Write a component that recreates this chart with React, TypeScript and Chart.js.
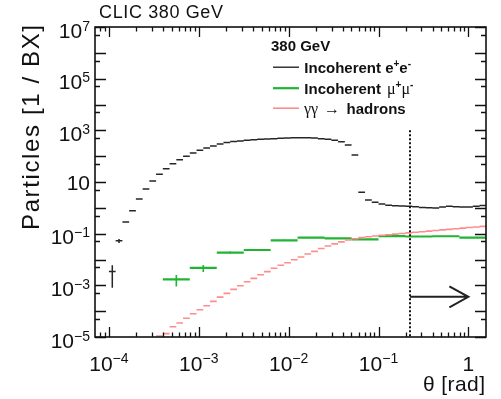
import { useEffect, useRef } from "react";
import { Chart, registerables } from "chart.js";

Chart.register(...registerables);

const SANS = "'Liberation Sans', Arial, Helvetica, sans-serif";
const SERIF = "'Liberation Serif', 'Times New Roman', serif";

// θ axis range [rad] and particle-count range
const THETA_MIN = 7.2e-5;
const THETA_MAX = Math.PI / 2;
const COUNT_MIN = 1e-5;
const COUNT_MAX = 1e7;

// log10(θ) binning: fine bins (e+e-, γγ → hadrons) and coarse bins (μ+μ-)
const FINE_START = -4.15;
const FINE_STEP = 0.075;
const COARSE_START = -3.4;
const COARSE_STEP = 0.3;

// Incoherent e+e- pairs per fine θ bin [1 / BX]
const EE_COUNTS: (number | null)[] = [
  null, null, 0.0034, 0.053, 0.28, 0.77, 2.2, 5.3, 10.9, 19.8,
  32.7, 51, 73, 99, 132, 169, 207, 247, 295, 337,
  369, 386, 411, 434, 449, 461, 475, 490, 505, 513,
  518, 513, 505, 475, 449, 411, 363, 270, 111, 4.0,
  2.0, 1.63, 1.4, 1.25, 1.2, 1.18, 1.14, 1.1, 1.04, 1.0,
  0.98, 1.08, 1.14, 1.1, 1.08, 1.08, 1.16, 1.22,
];
const EE_ERRORS = [0, 0, 0.0026, 0.009];

// γγ → hadrons per fine θ bin [1 / BX]
const HADRON_COUNTS: (number | null)[] = [
  null, null, null, null, null, null, null, null, null, 1.1e-5,
  1.35e-5, 2.5e-5, 3.5e-5, 5.3e-5, 7.9e-5, 1.13e-4, 1.62e-4, 2.4e-4, 3.5e-4, 4.9e-4,
  7.0e-4, 9.6e-4, 1.38e-3, 1.86e-3, 2.57e-3, 3.4e-3, 4.6e-3, 6.0e-3, 7.5e-3, 9.8e-3,
  0.0125, 0.0163, 0.0207, 0.0266, 0.0332, 0.0404, 0.0483, 0.0567, 0.0637, 0.0703,
  0.0755, 0.081, 0.0863, 0.091, 0.096, 0.101, 0.107, 0.113, 0.119, 0.125,
  0.132, 0.14, 0.147, 0.155, 0.164, 0.173, 0.182, 0.192,
];

// Incoherent μ+μ- pairs per coarse θ bin [1 / BX]
const MUMU_COUNTS = [
  1.7e-3, 4.7e-3, 0.0186, 0.0233, 0.055, 0.0697,
  0.066, 0.0603, 0.081, 0.0776, 0.0795, 0.0707,
];
const MUMU_ERRORS = [
  0.0008, 0.0014, 0.0017, 0.002, 0.003, 0.002,
  0.002, 0.002, 0.002, 0.002, 0.002, 0.002,
];

// labelled decades
const X_DECADES = [-4, -3, -2, -1, 0];
const Y_DECADES = [7, 5, 3, 1, -1, -3, -5];

// acceptance cut marker
const CUT_THETA = 0.224;
const CUT_TOP = 1e3;
const ARROW_END = 1.0;
const ARROW_LEVEL = 3.6e-4;

const TITLE = "CLIC 380 GeV";
const Y_TITLE = "Particles [1 / BX]";
const X_TITLE = "θ [rad]";
const LEGEND_HEADER = "380 GeV";

const EE_COLOR = "#262626";
const MUMU_COLOR = "#1fb532";
const HADRON_COLOR = "#ff8c8c";
const INK = "#111111";

type Pt = { x: number; y: number | null };

// horizontal bar across each bin, separated by gaps
function binSegments(start: number, step: number, values: (number | null)[]): Pt[] {
  const pts: Pt[] = [];
  values.forEach((v, i) => {
    if (v == null) return;
    const lo = Math.pow(10, start + i * step);
    const hi = Math.pow(10, start + (i + 1) * step);
    pts.push({ x: lo, y: v }, { x: hi, y: v }, { x: hi, y: null });
  });
  return pts;
}

// vertical error bar at each bin centre
function errorBars(start: number, step: number, values: (number | null)[], errs: number[]): Pt[] {
  const pts: Pt[] = [];
  values.forEach((v, i) => {
    const e = errs[i] ?? 0;
    if (v == null || !e) return;
    const c = Math.pow(10, start + (i + 0.5) * step);
    pts.push({ x: c, y: Math.max(v - e, 1e-9) }, { x: c, y: v + e }, { x: c, y: null });
  });
  return pts;
}

function powerParts(exp: number) {
  if (exp === 0) return { base: "1", sup: "" };
  if (exp === 1) return { base: "10", sup: "" };
  return { base: "10", sup: exp < 0 ? "\u2212" + -exp : String(exp) };
}

// text stretched to a given width through letter spacing
function fitText(ctx: any, text: string, x: number, y: number, width: number) {
  ctx.letterSpacing = "0px";
  const w = ctx.measureText(text).width;
  const n = Array.from(text).length;
  const sp = n > 1 ? (width - w) / (n - 1) : 0;
  ctx.letterSpacing = `${sp}px`;
  ctx.fillText(text, x, y);
  ctx.letterSpacing = "0px";
}

type Run = { text: string; font: string; rise?: number; at?: number };

function drawRuns(ctx: CanvasRenderingContext2D, runs: Run[], x: number, y: number) {
  let cx = x;
  for (const r of runs) {
    if (r.at !== undefined) cx = r.at;
    ctx.font = r.font;
    ctx.fillText(r.text, cx, y - (r.rise ?? 0));
    cx += ctx.measureText(r.text).width;
  }
}

const BASE_FONT = `21px ${SANS}`;
const SUP_FONT = `14px ${SANS}`;
const B15 = `bold 15px ${SANS}`;
const B10 = `bold 10px ${SANS}`;
const SYM = `16px ${SERIF}`;

const framePlugin = {
  id: "rootFrame",
  afterDraw(chart: any) {
    const { ctx, chartArea: a, scales } = chart;
    const xs = scales.x;
    const ys = scales.y;
    ctx.save();

    // cut line and arrow
    const cx = Math.round(xs.getPixelForValue(CUT_THETA));
    ctx.strokeStyle = INK;
    ctx.lineWidth = 2;
    ctx.setLineDash([2, 2]);
    ctx.beginPath();
    ctx.moveTo(cx, ys.getPixelForValue(CUT_TOP));
    ctx.lineTo(cx, a.bottom);
    ctx.stroke();
    ctx.setLineDash([]);

    const ay = ys.getPixelForValue(ARROW_LEVEL);
    const ax = xs.getPixelForValue(ARROW_END);
    ctx.strokeStyle = "#222";
    ctx.lineWidth = 2;
    ctx.beginPath();
    ctx.moveTo(cx, ay);
    ctx.lineTo(ax, ay);
    ctx.moveTo(ax - 19, ay - 10.5);
    ctx.lineTo(ax, ay);
    ctx.lineTo(ax - 19, ay + 10.5);
    ctx.stroke();

    // ticks (inside, on all four sides)
    ctx.strokeStyle = INK;
    ctx.lineWidth = 1.3;
    ctx.beginPath();
    for (let e = -5; e <= 1; e++) {
      for (let m = 1; m <= 9; m++) {
        const v = m * Math.pow(10, e);
        if (v < THETA_MIN || v > THETA_MAX) continue;
        const px = Math.round(xs.getPixelForValue(v)) + 0.5;
        const len = m === 1 ? 10 : 4.5;
        ctx.moveTo(px, a.bottom);
        ctx.lineTo(px, a.bottom - len);
        ctx.moveTo(px, a.top);
        ctx.lineTo(px, a.top + len);
      }
    }
    for (let e = -5; e <= 7; e++) {
      for (const m of [1, 5]) {
        const v = m * Math.pow(10, e);
        if (v < COUNT_MIN || v > COUNT_MAX) continue;
        const py = Math.round(ys.getPixelForValue(v)) + 0.5;
        const len = m === 1 ? 11 : 5;
        ctx.moveTo(a.left, py);
        ctx.lineTo(a.left + len, py);
        ctx.moveTo(a.right, py);
        ctx.lineTo(a.right - len, py);
      }
    }
    ctx.stroke();

    ctx.lineWidth = 1.6;
    ctx.strokeRect(a.left, a.top, a.right - a.left, a.bottom - a.top);

    // tick labels
    ctx.fillStyle = INK;
    ctx.textAlign = "left";
    ctx.textBaseline = "alphabetic";
    for (const e of Y_DECADES) {
      const py = ys.getPixelForValue(Math.pow(10, e));
      const { base, sup } = powerParts(e);
      ctx.font = BASE_FONT;
      const wb = ctx.measureText(base).width;
      ctx.font = SUP_FONT;
      const ws = sup ? ctx.measureText(sup).width : 0;
      const x0 = a.left - 5 - wb - ws;
      ctx.font = BASE_FONT;
      ctx.fillText(base, x0, py + (sup ? 10.5 : 7.5));
      if (sup) {
        ctx.font = SUP_FONT;
        ctx.fillText(sup, x0 + wb, py + 3.5);
      }
    }
    for (const e of X_DECADES) {
      const px = xs.getPixelForValue(Math.pow(10, e));
      const { base, sup } = powerParts(e);
      ctx.font = BASE_FONT;
      const wb = ctx.measureText(base).width;
      ctx.font = SUP_FONT;
      const ws = sup ? ctx.measureText(sup).width : 0;
      const x0 = px - (wb + ws) / 2;
      ctx.font = BASE_FONT;
      ctx.fillText(base, x0, a.bottom + 34);
      if (sup) {
        ctx.font = SUP_FONT;
        ctx.fillText(sup, x0 + wb, a.bottom + 26);
      }
    }

    // titles
    ctx.font = `18px ${SANS}`;
    fitText(ctx, TITLE, a.left + 4, 18, 124);
    ctx.font = `21px ${SANS}`;
    fitText(ctx, X_TITLE, a.right - 63, 391, 62);
    ctx.save();
    ctx.translate(39, 230);
    ctx.rotate(-Math.PI / 2);
    ctx.font = `24px ${SANS}`;
    fitText(ctx, Y_TITLE, 0, 0, 205);
    ctx.restore();

    // legend
    ctx.font = B15;
    ctx.fillText(LEGEND_HEADER, 271, 51);
    const rows: { color: string; width: number; y: number; runs: Run[] }[] = [
      {
        color: EE_COLOR, width: 1.4, y: 72.7,
        runs: [
          { text: "Incoherent e", font: B15 },
          { text: "+", font: B10, rise: 6 },
          { text: "e", font: B15 },
          { text: "-", font: B10, rise: 6 },
        ],
      },
      {
        color: MUMU_COLOR, width: 2.2, y: 93.7,
        runs: [
          { text: "Incoherent", font: B15 },
          { text: "\u03bc", font: SYM, at: 387 },
          { text: "+", font: B10, rise: 6 },
          { text: "\u03bc", font: SYM },
          { text: "-", font: B10, rise: 6 },
        ],
      },
      {
        color: HADRON_COLOR, width: 1.6, y: 113.7,
        runs: [
          { text: "\u03b3\u03b3", font: SYM, at: 304 },
          { text: "\u2192", font: SYM, at: 324 },
          { text: "hadrons", font: B15, at: 346.5 },
        ],
      },
    ];
    for (const r of rows) {
      ctx.strokeStyle = r.color;
      ctx.lineWidth = r.width;
      ctx.beginPath();
      ctx.moveTo(273, r.y - 5.5);
      ctx.lineTo(299, r.y - 5.5);
      ctx.stroke();
      ctx.fillStyle = INK;
      drawRuns(ctx, r.runs, 304.3, r.y);
    }

    ctx.restore();
  },
};

export default function App() {
  const ref = useRef<HTMLCanvasElement>(null);

  useEffect(() => {
    const line = (data: Pt[], color: string, width: number) => ({
      data,
      borderColor: color,
      backgroundColor: color,
      borderWidth: width,
      showLine: true,
      spanGaps: false,
      pointRadius: 0,
      pointHoverRadius: 0,
    });

    const chart = new Chart(ref.current as HTMLCanvasElement, {
      type: "scatter",
      data: {
        datasets: [
          line(binSegments(FINE_START, FINE_STEP, HADRON_COUNTS), HADRON_COLOR, 1.6),
          line(binSegments(COARSE_START, COARSE_STEP, MUMU_COUNTS), MUMU_COLOR, 2.2),
          line(errorBars(COARSE_START, COARSE_STEP, MUMU_COUNTS, MUMU_ERRORS), MUMU_COLOR, 1.6),
          line(binSegments(FINE_START, FINE_STEP, EE_COUNTS), EE_COLOR, 1.5),
          line(errorBars(FINE_START, FINE_STEP, EE_COUNTS, EE_ERRORS), EE_COLOR, 1.5),
        ] as any,
      },
      options: {
        responsive: false,
        animation: false,
        devicePixelRatio: 1,
        layout: { padding: { top: 27, right: 15, left: 0, bottom: 0 } },
        plugins: { legend: { display: false }, tooltip: { enabled: false } },
        events: [],
        scales: {
          x: {
            type: "logarithmic",
            min: THETA_MIN,
            max: THETA_MAX,
            ticks: { display: false },
            grid: { display: false },
            border: { display: false },
            afterFit: (s: any) => {
              s.height = 62;
            },
          },
          y: {
            type: "logarithmic",
            min: COUNT_MIN,
            max: COUNT_MAX,
            ticks: { display: false },
            grid: { display: false },
            border: { display: false },
            afterFit: (s: any) => {
              s.width = 95;
            },
          },
        },
      } as any,
      plugins: [framePlugin],
    });
    return () => chart.destroy();
  }, []);

  return (
    <div style={{ position: "fixed", left: 0, top: 0, width: 501, height: 399, background: "#fff" }}>
      <canvas ref={ref} width={501} height={399} style={{ width: "501px", height: "399px", display: "block" }} />
    </div>
  );
}
